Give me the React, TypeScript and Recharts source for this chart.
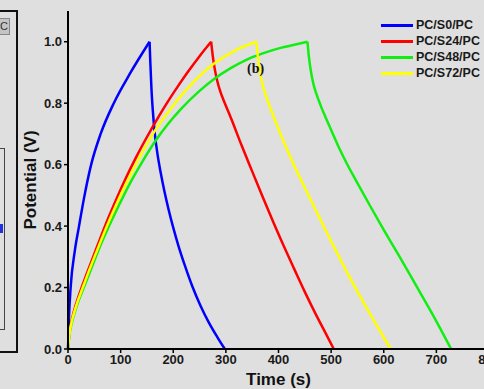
import { Legend, Line, LineChart, XAxis, YAxis } from "recharts";

// [time (s), potential (V)] — charge branch, then discharge branch
const s0Charge: [number, number][] = [
  [0, 0], [1.9, 0.105], [5, 0.2], [13, 0.32], [21, 0.4], [30, 0.487], [44, 0.6], [62, 0.7],
  [87, 0.8], [119, 0.9], [155, 1.0],
];
const s0Discharge: [number, number][] = [
  [155, 1.0], [156.5, 0.93], [158.5, 0.85], [161, 0.78], [165, 0.7], [170, 0.635], [176, 0.575],
  [183, 0.515], [191, 0.455], [200, 0.395], [210, 0.335], [222, 0.272], [236, 0.205],
  [252, 0.14], [268, 0.085], [284, 0.038], [298, 0],
];
const s24Charge: [number, number][] = [
  [0, 0], [3, 0.055], [8, 0.1], [16, 0.15], [27, 0.205], [40, 0.265], [55, 0.332], [71, 0.403],
  [90, 0.48], [110, 0.556], [130, 0.626], [150, 0.69], [170, 0.75], [190, 0.806], [210, 0.858],
  [230, 0.907], [250, 0.953], [272, 1.0],
];
const s24Discharge: [number, number][] = [
  [272, 1.0], [275, 0.955], [279, 0.91], [284, 0.87], [290, 0.835], [298, 0.8], [310, 0.75],
  [330, 0.662], [350, 0.578], [370, 0.495], [390, 0.413], [410, 0.335], [430, 0.26],
  [450, 0.186], [470, 0.116], [490, 0.05], [505, 0],
];
const s48Charge: [number, number][] = [
  [0, 0], [3, 0.05], [8, 0.09], [16, 0.137], [30, 0.2], [45, 0.265], [60, 0.33], [78, 0.4],
  [98, 0.472], [118, 0.54], [140, 0.606], [169, 0.684], [190, 0.732], [214, 0.78], [250, 0.84],
  [277, 0.878], [310, 0.915], [340, 0.942], [370, 0.962], [404, 0.98], [430, 0.99], [455, 1.0],
];
const s48Discharge: [number, number][] = [
  [455, 1.0], [457.5, 0.955], [461, 0.91], [466, 0.865], [472, 0.83], [480, 0.793], [490, 0.752],
  [500, 0.713], [515, 0.655], [530, 0.603], [550, 0.54], [575, 0.463], [600, 0.388],
  [625, 0.315], [650, 0.241], [673, 0.172], [700, 0.09], [728, 0],
];
const s72Charge: [number, number][] = [
  [0, 0], [3, 0.052], [8, 0.095], [16, 0.143], [28, 0.2], [40, 0.255], [55, 0.32], [74, 0.4],
  [93, 0.475], [118, 0.565], [140, 0.637], [165, 0.71], [190, 0.77], [214, 0.822], [245, 0.88],
  [277, 0.928], [318, 0.972], [358, 1.0],
];
const s72Discharge: [number, number][] = [
  [358, 1.0], [360.5, 0.955], [364, 0.91], [369, 0.865], [376, 0.825], [386, 0.778], [400, 0.715],
  [415, 0.655], [429, 0.6], [450, 0.525], [470, 0.455], [490, 0.385], [510, 0.317], [530, 0.25],
  [556, 0.168], [585, 0.082], [613, 0],
];

const seriesNames = ["PC/S0/PC", "PC/S24/PC", "PC/S48/PC", "PC/S72/PC"];
const seriesColors = ["#0000ff", "#ff0000", "#11ee11", "#ffff00"];
const seriesBranches = [
  [s0Charge, s0Discharge],
  [s24Charge, s24Discharge],
  [s48Charge, s48Discharge],
  [s72Charge, s72Discharge],
];

const xTicks = [0, 100, 200, 300, 400, 500, 600, 700, 800];
const yTicks = [0, 0.2, 0.4, 0.6, 0.8, 1.0];

const font = "'Liberation Sans', Arial, sans-serif";
const tickStyle = { fontFamily: font, fontSize: 13, fontWeight: 700, fill: "#1a1a1a" };

function LegendBox() {
  return (
    <div style={{ fontFamily: font, fontSize: 12.5, fontWeight: 700, color: "#1a1a1a" }}>
      {seriesNames.map((n, i) => (
        <div key={n} style={{ display: "flex", alignItems: "center", height: 16 }}>
          <div style={{ width: 32, height: 3, background: seriesColors[i], marginRight: 3 }} />
          {n}
        </div>
      ))}
    </div>
  );
}

export default function App() {
  return (
    <div
      style={{
        position: "fixed",
        left: 0,
        top: 0,
        width: 484,
        height: 389,
        overflow: "hidden",
        background: "#dfdfdf",
      }}
    >
      {/* edge of neighbouring panel (c) */}
      <div style={{ position: "absolute", left: -2, top: 10, width: 16, height: 339, border: "2px solid #111" }} />
      <div
        style={{
          position: "absolute", left: -1, top: 18, width: 9, height: 15, background: "#c4c4c4",
          border: "1px solid #888", fontFamily: font, fontSize: 11, lineHeight: "15px", color: "#333",
        }}
      >
        C
      </div>
      <div style={{ position: "absolute", left: -2, top: 148, width: 5, height: 180, border: "1px solid #444" }} />
      <div style={{ position: "absolute", left: 0, top: 224, width: 3, height: 9, background: "#2233dd" }} />

      <LineChart
        width={520}
        height={389}
        margin={{ top: 11, right: 31, bottom: 0, left: 0 }}
        style={{ position: "absolute", left: 0, top: 0 }}
      >
        <XAxis
          dataKey="t"
          type="number"
          domain={[0, 800]}
          ticks={xTicks}
          height={40}
          tickSize={4}
          tick={tickStyle}
          axisLine={{ stroke: "#000", strokeWidth: 2 }}
          tickLine={{ stroke: "#000", strokeWidth: 1.5 }}
          label={{
            value: "Time (s)",
            position: "insideBottom",
            offset: 4,
            style: { fontFamily: font, fontSize: 17, fontWeight: 700, fill: "#111" },
          }}
        />
        <XAxis
          xAxisId="top"
          orientation="top"
          type="number"
          domain={[0, 800]}
          height={0}
          tick={false}
          tickLine={false}
          axisLine={{ stroke: "#000", strokeWidth: 2 }}
        />
        <YAxis
          type="number"
          domain={[0, 1.1]}
          ticks={yTicks}
          width={68}
          tickSize={4}
          tick={tickStyle}
          tickFormatter={(v: number) => v.toFixed(1)}
          axisLine={{ stroke: "#000", strokeWidth: 2 }}
          tickLine={{ stroke: "#000", strokeWidth: 1.5 }}
          label={{
            value: "Potential (V)",
            angle: -90,
            position: "insideLeft",
            offset: 30,
            style: { fontFamily: font, fontSize: 17, fontWeight: 700, fill: "#111", textAnchor: "middle" },
          }}
        />
        {seriesBranches.map((branches, i) =>
          branches.map((d, j) => (
            <Line
              key={`${seriesNames[i]}-${j}`}
              name={seriesNames[i]}
              data={d.map(([t, v]) => ({ t, v }))}
              dataKey="v"
              type="monotone"
              stroke={seriesColors[i]}
              strokeWidth={2.5}
              dot={false}
              isAnimationActive={false}
            />
          ))
        )}
        <Legend
          layout="vertical"
          align="center"
          verticalAlign="middle"
          content={() => <LegendBox />}
          wrapperStyle={{ position: "absolute", left: 381, top: 17, width: 110 }}
        />
      </LineChart>

      <div
        style={{
          position: "absolute", left: 247, top: 61, fontFamily: "'Liberation Serif', 'Times New Roman', serif",
          fontSize: 14, fontWeight: 700, color: "#111",
        }}
      >
        (b)
      </div>
    </div>
  );
}
